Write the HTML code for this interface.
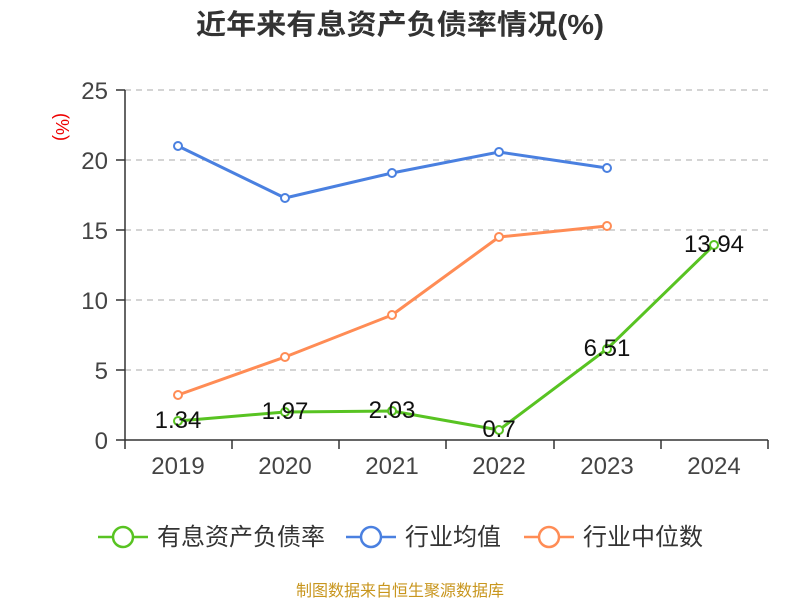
<!DOCTYPE html>
<html><head><meta charset="utf-8"><style>
body{margin:0;background:#fff;}
svg text{font-family:"Liberation Sans","Noto Sans CJK SC",sans-serif;}
</style></head><body>
<svg width="800" height="600" xmlns="http://www.w3.org/2000/svg">
<text x="400" y="34" text-anchor="middle" font-size="28" font-weight="bold" fill="#333" textLength="408" lengthAdjust="spacingAndGlyphs">近年来有息资产负债率情况(%)</text>
<text transform="translate(56,127) rotate(90)" text-anchor="middle" font-size="18" fill="#e00">(%)</text>
<g stroke="#bbb" stroke-dasharray="6,5" stroke-width="1.3">
<line x1="125" y1="90" x2="768" y2="90"/><line x1="125" y1="160" x2="768" y2="160"/>
<line x1="125" y1="230" x2="768" y2="230"/><line x1="125" y1="300" x2="768" y2="300"/>
<line x1="125" y1="370" x2="768" y2="370"/></g>
<g stroke="#333" stroke-width="1.5">
<line x1="125" y1="90" x2="125" y2="440"/><line x1="125" y1="440" x2="768" y2="440"/>
<line x1="116" y1="90" x2="125" y2="90"/><line x1="116" y1="160" x2="125" y2="160"/><line x1="116" y1="230" x2="125" y2="230"/><line x1="116" y1="300" x2="125" y2="300"/><line x1="116" y1="370" x2="125" y2="370"/><line x1="116" y1="440" x2="125" y2="440"/>
<line x1="125" y1="440" x2="125" y2="449"/><line x1="232" y1="440" x2="232" y2="449"/><line x1="339" y1="440" x2="339" y2="449"/><line x1="446" y1="440" x2="446" y2="449"/><line x1="554" y1="440" x2="554" y2="449"/><line x1="661" y1="440" x2="661" y2="449"/><line x1="768" y1="440" x2="768" y2="449"/>
</g>
<g font-size="24" fill="#444" text-anchor="end">
<text x="108" y="99">25</text><text x="108" y="169">20</text><text x="108" y="239">15</text><text x="108" y="309">10</text><text x="108" y="379">5</text><text x="108" y="449">0</text></g>
<g font-size="24" fill="#444" text-anchor="middle">
<text x="178" y="474">2019</text><text x="285" y="474">2020</text><text x="392" y="474">2021</text><text x="499" y="474">2022</text><text x="607" y="474">2023</text><text x="714" y="474">2024</text></g>
<g fill="#fff" stroke-width="3">
<polyline points="178,146 285,198 392,173 499,152 607,168" fill="none" stroke="#4a80e0"/>
<polyline points="178,395 285,357 392,315 499,237 607,226" fill="none" stroke="#ff8c55"/>
<polyline points="178,421 285,412 392,411 499,430 607,349 714,245" fill="none" stroke="#58c322"/>
<g stroke="#4a80e0" stroke-width="2"><circle cx="178" cy="146" r="4"/><circle cx="285" cy="198" r="4"/><circle cx="392" cy="173" r="4"/><circle cx="499" cy="152" r="4"/><circle cx="607" cy="168" r="4"/></g>
<g stroke="#ff8c55" stroke-width="2"><circle cx="178" cy="395" r="4"/><circle cx="285" cy="357" r="4"/><circle cx="392" cy="315" r="4"/><circle cx="499" cy="237" r="4"/><circle cx="607" cy="226" r="4"/></g>
<g stroke="#58c322" stroke-width="2"><circle cx="178" cy="421" r="4"/><circle cx="285" cy="412" r="4"/><circle cx="392" cy="411" r="4"/><circle cx="499" cy="430" r="4"/><circle cx="607" cy="349" r="4"/><circle cx="714" cy="245" r="4"/></g>
</g>
<g font-size="24" fill="#111" text-anchor="middle">
<text x="178" y="428">1.34</text><text x="285" y="419">1.97</text><text x="392" y="418">2.03</text><text x="499" y="437">0.7</text><text x="607" y="356">6.51</text><text x="714" y="252">13.94</text></g>
<g stroke-width="2.5" fill="#fff">
<line x1="98" y1="537" x2="148" y2="537" stroke="#58c322"/><circle cx="123" cy="537" r="10" stroke="#58c322"/>
<line x1="346" y1="537" x2="396" y2="537" stroke="#4a80e0"/><circle cx="371" cy="537" r="10" stroke="#4a80e0"/>
<line x1="524" y1="537" x2="574" y2="537" stroke="#ff8c55"/><circle cx="549" cy="537" r="10" stroke="#ff8c55"/>
</g>
<g font-size="24" fill="#333">
<text x="157" y="545">有息资产负债率</text><text x="405" y="545">行业均值</text><text x="583" y="545">行业中位数</text></g>
<text x="400" y="596" text-anchor="middle" font-size="16" fill="#c8961e">制图数据来自恒生聚源数据库</text>
</svg>
</body></html>
